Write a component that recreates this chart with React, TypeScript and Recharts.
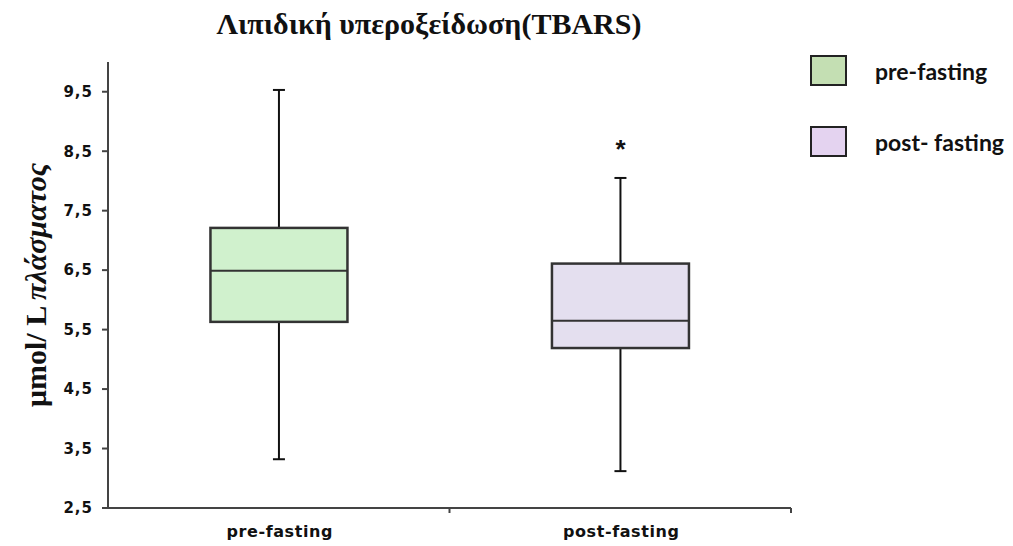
import React from 'react';
import { ComposedChart, Bar, XAxis, YAxis, Label } from 'recharts';

// Box-plot values (μmol/L)
const categories = ['pre-fasting', 'post-fasting'];
const whiskerLow = [3.32, 3.12];
const quartile1 = [5.63, 5.19];
const medians = [6.49, 5.65];
const quartile3 = [7.21, 6.61];
const whiskerHigh = [9.53, 8.05];
const significance = ['', '*'];
const legendLabels = ['pre-fasting', 'post- fasting'];
const yTicks = [2.5, 3.5, 4.5, 5.5, 6.5, 7.5, 8.5, 9.5];

const COLORS = {
  axis: '#444444',
  boxEdge: '#333333',
  whisker: '#111111',
  boxFill: ['#d0f1cd', '#e4dfef'],
  legendFill: ['#c4dfb3', '#e4d3f0'],
  text: '#111111',
};

const data = categories.map((name, i) => ({
  name,
  low: whiskerLow[i],
  q1: quartile1[i],
  median: medians[i],
  q3: quartile3[i],
  high: whiskerHigh[i],
  mark: significance[i],
  idx: i,
}));

const BoxShape = (props: any) => {
  const { x, y, width, height, payload } = props;
  const top = Math.min(y, y + height);
  const h = Math.abs(height);
  const k = h / (payload.high - payload.low);
  const yOf = (v: number) => top + (payload.high - v) * k;
  const cx = x + width / 2;
  const cap = 6;
  return (
    <g>
      <line x1={cx} x2={cx} y1={yOf(payload.high)} y2={yOf(payload.q3)} stroke={COLORS.whisker} strokeWidth={2} />
      <line x1={cx} x2={cx} y1={yOf(payload.q1)} y2={yOf(payload.low)} stroke={COLORS.whisker} strokeWidth={2} />
      <line x1={cx - cap} x2={cx + cap} y1={yOf(payload.high)} y2={yOf(payload.high)} stroke={COLORS.whisker} strokeWidth={2} />
      <line x1={cx - cap} x2={cx + cap} y1={yOf(payload.low)} y2={yOf(payload.low)} stroke={COLORS.whisker} strokeWidth={2} />
      <rect
        x={x}
        y={yOf(payload.q3)}
        width={width}
        height={yOf(payload.q1) - yOf(payload.q3)}
        fill={COLORS.boxFill[payload.idx]}
        stroke={COLORS.boxEdge}
        strokeWidth={2.5}
      />
      <line x1={x} x2={x + width} y1={yOf(payload.median)} y2={yOf(payload.median)} stroke={COLORS.boxEdge} strokeWidth={2} />
      {payload.mark ? (
        <text x={cx} y={yOf(payload.high) - 20} textAnchor="middle" fontFamily="Liberation Sans" fontWeight="bold" fontSize={26} fill={COLORS.text}>
          {payload.mark}
        </text>
      ) : null}
    </g>
  );
};

const XTick = (props: any) => {
  const { x, y, payload, width, visibleTicksCount } = props;
  const band = (width || 683) / (visibleTicksCount || 2);
  return (
    <g>
      <line x1={x + band / 2} x2={x + band / 2} y1={y - 8} y2={y - 3} stroke={COLORS.axis} strokeWidth={2} />
      <text
        x={x + 1}
        y={y + 21}
        textAnchor="middle"
        fontFamily="DejaVu Sans"
        fontWeight="bold"
        fontSize={16}
        letterSpacing={0.6}
        fill={COLORS.text}
      >
        {payload.value}
      </text>
    </g>
  );
};

const YTitle = (props: any) => {
  const { viewBox } = props;
  const cx = viewBox.x + 27;
  const cy = viewBox.y + viewBox.height / 2;
  return (
    <text
      x={cx}
      y={cy}
      transform={`rotate(-90, ${cx}, ${cy})`}
      textAnchor="middle"
      dominantBaseline="central"
      fontFamily="Liberation Serif"
      fontWeight="bold"
      fontSize={30}
      fill={COLORS.text}
    >
      μmol/ L <tspan fontStyle="italic">πλάσματος</tspan>
    </text>
  );
};

const LegendBox = () => (
  <div style={{ position: 'absolute', top: 47, left: 802, width: 195 }}>
    {legendLabels.map((label, i) => (
      <div key={label} style={{ display: 'flex', alignItems: 'center', height: 31, marginBottom: 40 }}>
        <div
          style={{
            width: 37,
            height: 31,
            boxSizing: 'border-box',
            border: '2px solid #222',
            backgroundColor: COLORS.legendFill[i],
          }}
        />
        <span
          style={{
            marginLeft: 28,
            fontFamily: 'Lato',
            fontWeight: 'bold',
            fontSize: 23,
            color: COLORS.text,
            whiteSpace: 'nowrap',
          }}
        >
          {label}
        </span>
      </div>
    ))}
  </div>
);

export default function App() {
  return (
    <div style={{ position: 'relative', width: 997, height: 538 }}>
      <div
        style={{
          position: 'absolute',
          top: 1,
          left: 0,
          width: 842,
          textAlign: 'center',
          fontFamily: 'Liberation Serif',
          fontWeight: 'bold',
          fontSize: 30,
          lineHeight: '30px',
          color: COLORS.text,
          zIndex: 2,
        }}
      >
        Λιπιδική υπεροξείδωση(TBARS)
      </div>
      <LegendBox />
      <ComposedChart
        width={997}
        height={538}
        data={data}
        margin={{ top: 54, right: 214, bottom: 0, left: 0 }}
        barCategoryGap="30%"
      >
        <XAxis
          dataKey="name"
          height={38}
          tickLine={false}
          axisLine={{ stroke: COLORS.axis, strokeWidth: 2 }}
          tick={<XTick />}
          interval={0}
        />
        <YAxis
          width={100}
          type="number"
          domain={[2.5, 10]}
          ticks={yTicks}
          interval={0}
          tickFormatter={(v: number) => v.toFixed(1).replace('.', ',')}
          tickSize={6}
          tickMargin={9}
          tickLine={{ stroke: COLORS.axis, strokeWidth: 2 }}
          axisLine={{ stroke: COLORS.axis, strokeWidth: 2 }}
          tick={{ fontFamily: 'DejaVu Sans', fontWeight: 'bold', fontSize: 15, letterSpacing: 1, fill: COLORS.text }}
        >
          <Label content={<YTitle />} />
        </YAxis>
        <Bar
          dataKey={(d: any) => [d.low, d.high]}
          shape={<BoxShape />}
          isAnimationActive={false}
        />
      </ComposedChart>
    </div>
  );
}
